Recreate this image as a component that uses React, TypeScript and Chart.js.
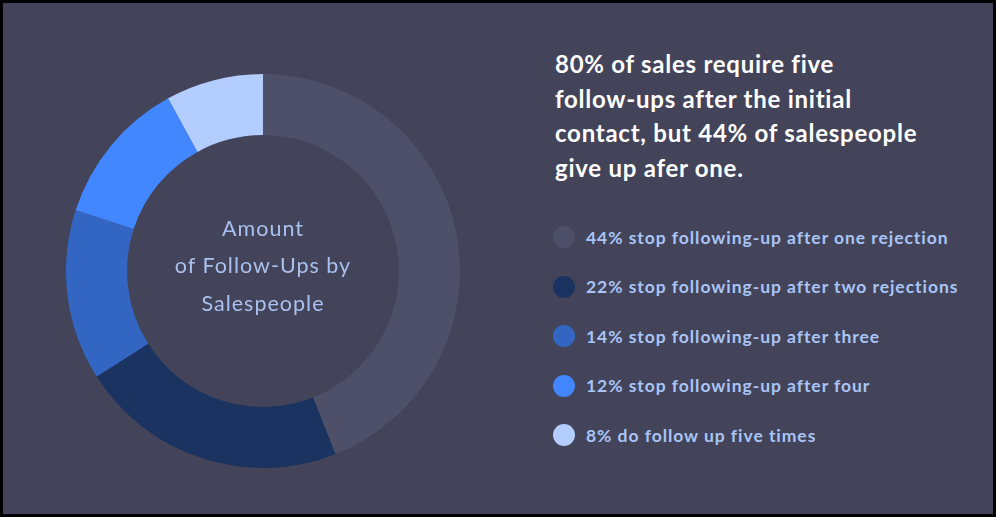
import React, { useEffect, useRef } from "react";
import { Chart, registerables } from "chart.js";

Chart.register(...registerables);

const categories = [
  "44% stop following-up after one rejection",
  "22% stop following-up after two rejections",
  "14% stop following-up after three",
  "12% stop following-up after four",
  "8% do follow up five times",
];
const values = [44, 22, 14, 12, 8];
const colors = ["#4e5069", "#1b3360", "#3366c3", "#4287ff", "#b3cdff"];
const centerLines = ["Amount", "of Follow-Ups by", "Salespeople"];
const headlineLines = [
  "80% of sales require five",
  "follow-ups after the initial",
  "contact, but 44% of salespeople",
  "give up afer one.",
];

const BG = "#434459";
const FONT = "Lato, 'Open Sans', sans-serif";

export default function App() {
  const canvasRef = useRef<HTMLCanvasElement | null>(null);

  useEffect(() => {
    if (!canvasRef.current) return;
    const chart = new Chart(canvasRef.current, {
      type: "doughnut",
      data: {
        labels: categories,
        datasets: [
          {
            data: values,
            backgroundColor: colors,
            borderWidth: 0,
            hoverOffset: 0,
          },
        ],
      },
      options: {
        animation: false,
        responsive: false,
        maintainAspectRatio: false,
        cutout: "69%",
        rotation: 0,
        layout: { padding: 0 },
        plugins: {
          legend: { display: false },
          tooltip: { enabled: false },
          title: { display: false },
        },
        events: [],
      },
    });
    return () => chart.destroy();
  }, []);

  return (
    <div
      style={{
        position: "fixed",
        left: 0,
        top: 0,
        width: 996,
        height: 517,
        background: "#000",
        overflow: "hidden",
      }}
    >
      <div
        style={{
          position: "absolute",
          left: 3,
          top: 3,
          width: 990,
          height: 511,
          background: BG,
        }}
      />
      <canvas
        ref={canvasRef}
        width={394}
        height={394}
        style={{ position: "absolute", left: 65.5, top: 74, width: 394, height: 394 }}
      />
      <div
        style={{
          position: "absolute",
          left: 113,
          width: 300,
          top: 209.8,
          textAlign: "center",
          fontFamily: FONT,
          fontSize: 21.5,
          lineHeight: "37.5px",
          color: "#a9c1f0",
          letterSpacing: 1.0,
        }}
      >
        {centerLines.map((l, i) => (
          <div key={i}>{l}</div>
        ))}
      </div>
      <div
        style={{
          position: "absolute",
          left: 555,
          top: 47,
          fontFamily: FONT,
          fontWeight: 700,
          fontSize: 24,
          lineHeight: "34.7px",
          color: "#ffffff",
          whiteSpace: "nowrap",
          letterSpacing: 0.75,
        }}
      >
        {headlineLines.map((l, i) => (
          <div key={i}>{l}</div>
        ))}
      </div>
      <div style={{ position: "absolute", left: 553, top: 212.25 }}>
        {categories.map((c, i) => (
          <div
            key={i}
            style={{
              height: 49.5,
              display: "flex",
              alignItems: "center",
              whiteSpace: "nowrap",
            }}
          >
            <span
              style={{
                display: "inline-block",
                width: 22,
                height: 22,
                borderRadius: "50%",
                background: colors[i],
                marginRight: 11,
              }}
            />
            <span
              style={{
                fontFamily: FONT,
                fontWeight: 700,
                fontSize: 17.5,
                letterSpacing: 0.95,
                color: "#a9c4f7",
              }}
            >
              {c}
            </span>
          </div>
        ))}
      </div>
    </div>
  );
}
